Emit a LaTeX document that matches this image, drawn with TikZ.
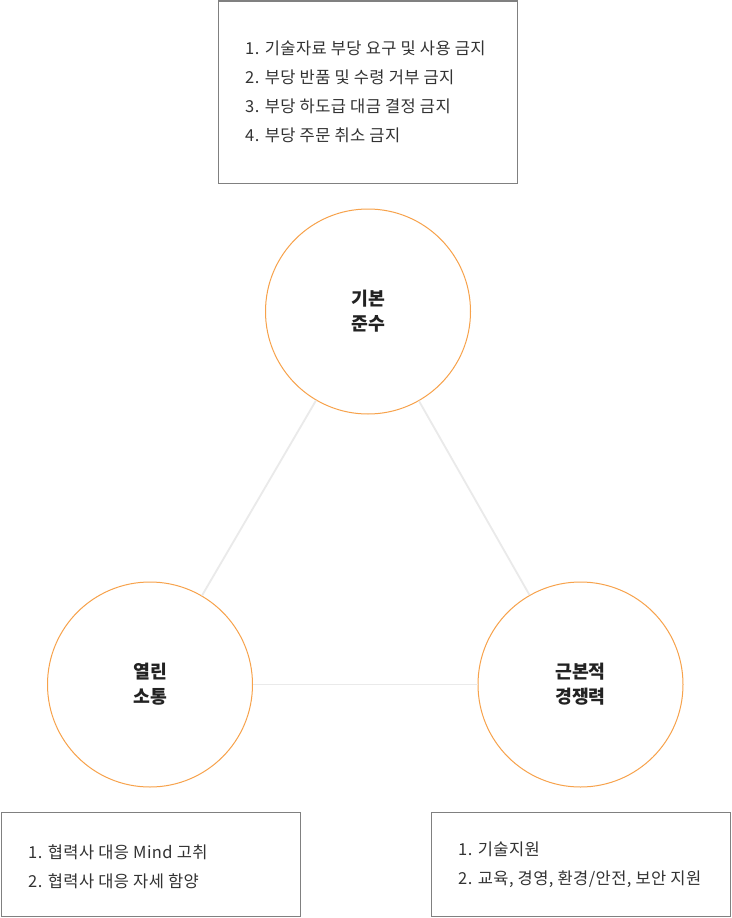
\documentclass[tikz,border=0pt]{standalone}
\usepackage{fontspec}
\newfontfamily\kr[LetterSpace=2.5]{Noto Sans CJK KR}
\newfontfamily\krb{Noto Sans CJK KR}
\definecolor{orangeline}{HTML}{F7A24B}
\definecolor{linkgray}{HTML}{EAEAEA}
\definecolor{boxgray}{HTML}{808080}
\definecolor{txt}{HTML}{333333}
\definecolor{lbl}{HTML}{222222}
\begin{document}
\begin{tikzpicture}[x=1pt,y=-1pt,
  pillar/.style={circle,draw=orangeline,line width=1pt,fill=white,minimum size=205pt,inner sep=0pt,
    align=center,text=lbl,font=\krb\bfseries\fontsize{18.3}{25}\selectfont},
  infobox/.style={draw=boxgray,line width=1pt,inner sep=0pt},
  listtext/.style={anchor=west,align=left,inner sep=0pt,text=txt,font=\kr\fontsize{16.5}{29}\selectfont},
  link/.style={draw=linkgray,line width=1.8pt}]
\useasboundingbox (0,0) rectangle (731,918);
\fill[white] (0,0) rectangle (731,918);
% boxes
\node[infobox,minimum width=299pt,minimum height=182pt] (topbox) at (367.5,92) {};
\node[infobox,minimum width=299pt,minimum height=104pt] (leftbox) at (150.5,864.5) {};
\node[infobox,minimum width=299pt,minimum height=104pt] (rightbox) at (581,864.5) {};
% texts
\node[listtext] (toptext) at (245,92) {1. 기술자료 부당 요구 및 사용 금지\\2. 부당 반품 및 수령 거부 금지\\3. 부당 하도급 대금 결정 금지\\4. 부당 주문 취소 금지};
\node[listtext] (lefttext) at (28,866.5) {1. 협력사 대응 Mind 고취\\2. 협력사 대응 자세 함양};
\node[listtext] (righttext) at (458,865) {1. 기술지원\\2. 교육, 경영, 환경/안전, 보안 지원};
% circles
\node[pillar] (basic) at (368,311.5) {기본\\준수};
\node[pillar] (open) at (150,684.5) {열린\\소통};
\node[pillar] (comp) at (580.5,684.5) {근본적\\경쟁력};
% links
\path[link] (basic) -- (open);
\path[link] (basic) -- (comp);
\path[link] (open) -- (comp);
\end{tikzpicture}
\end{document}
